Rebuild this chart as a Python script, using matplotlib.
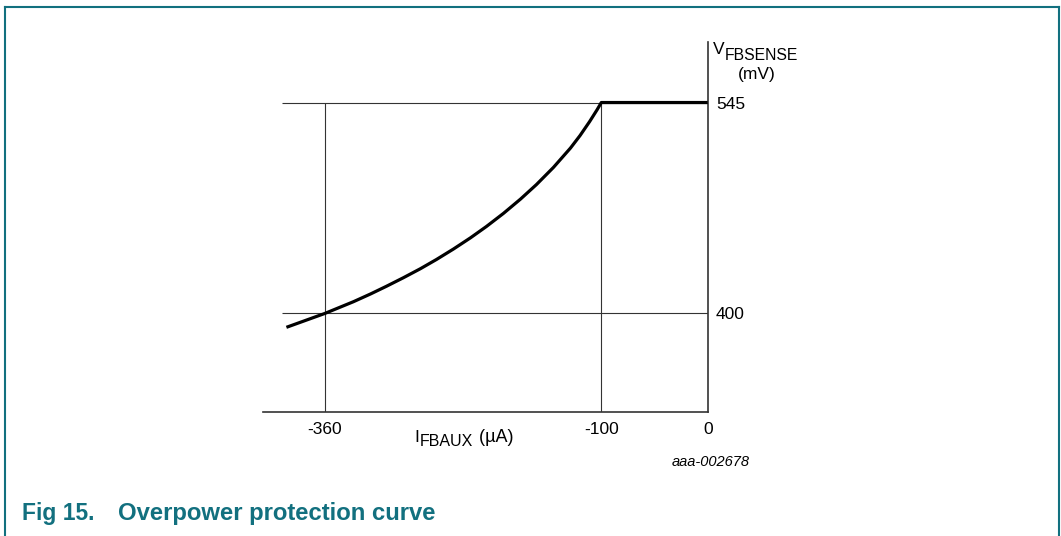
import matplotlib
matplotlib.use("Agg")
import matplotlib.pyplot as plt
from matplotlib.lines import Line2D

# ------------------ DATA ------------------

i_fbaux = [-396, -360, -333, -317, -302, -286, -270, -255, -239, -223, -208,
           -192, -176, -161, -145, -129, -120, -111, -104, -100, 0]           # uA
v_fbsense = [390.5, 400, 408.1, 413.4, 418.7, 424.6, 430.8, 437.1, 444.3, 452.0, 459.8,
             468.8, 478.6, 488.6, 500.4, 513.7, 522.3, 531.9, 540.0, 545, 545]  # mV

x_ticks  = [-360, -100, 0]
y_ticks  = [400, 545]
ref_x    = [-360, -100]    # vertical guide lines
ref_y    = [400, 545]      # horizontal guide lines
guide_x0 = -400            # left end of horizontal guides

X_LIM = (-418, 0)
Y_LIM = (332.3, 586.6)

TEAL = "#12707f"

# ------------------ FIGURE ------------------

plt.rcParams["font.family"] = ["Liberation Sans", "DejaVu Sans"]

W, H = 1061, 536
fig = plt.figure(figsize=(W / 100, H / 100), dpi=100)
renderer = fig.canvas.get_renderer()

# axes box in pixels: x 263..707.7, y 42..412
left, right, top, bottom = 263, 707.7, 42, 412
ax = fig.add_axes([left / W, (H - bottom) / H, (right - left) / W, (bottom - top) / H])

# guide lines
for yv in ref_y:
    ax.plot([guide_x0, 0], [yv, yv], color="#333333", lw=0.8, solid_capstyle="butt")
for xv in ref_x:
    ax.plot([xv, xv], [Y_LIM[0], 545], color="#333333", lw=0.8, solid_capstyle="butt")

# main curve
ax.plot(i_fbaux, v_fbsense, color="black", lw=2.3, solid_capstyle="butt",
        solid_joinstyle="round", zorder=3)

ax.set_xlim(*X_LIM)
ax.set_ylim(*Y_LIM)

for s in ["top", "left"]:
    ax.spines[s].set_visible(False)
for s in ["right", "bottom"]:
    ax.spines[s].set_linewidth(1.2)
    ax.spines[s].set_color("#333333")

ax.set_xticks(x_ticks)
ax.set_xticklabels([str(v) for v in x_ticks])
ax.set_yticks(y_ticks)
ax.set_yticklabels([str(v) for v in y_ticks])
ax.yaxis.tick_right()
ax.tick_params(axis="both", length=0, labelsize=12.5, colors="black")
ax.tick_params(axis="x", pad=7)
ax.tick_params(axis="y", pad=6)
ax.patch.set_alpha(0)


def pix_text(x, y, s, **kw):
    """Place text at pixel coords (y from top), return its right edge in pixels."""
    t = fig.text(x / W, 1 - y / H, s, **kw)
    bb = t.get_window_extent(renderer)
    return bb.x1


# y axis title: V with large subscript, (mV) below
x_end = pix_text(713, 50, "V", fontsize=12.5, va="center", ha="left")
pix_text(x_end + 0.5, 55, "FBSENSE", fontsize=11.3, va="center", ha="left")
pix_text(757, 75, "(mV)", fontsize=12.5, va="center", ha="center")

# x axis title
x_end = pix_text(414, 437, "I", fontsize=12.5, va="center", ha="left")
x_end = pix_text(x_end + 0.5, 442, "FBAUX", fontsize=11.5, va="center", ha="left")
pix_text(x_end + 1, 437, " (µA)", fontsize=13, va="center", ha="left")

pix_text(711, 462, "aaa-002678", fontsize=10.5, style="italic", va="center", ha="center")

# caption
pix_text(22, 520, "Fig 15.", fontsize=16.5, fontweight="bold", color=TEAL, va="baseline", ha="left")
pix_text(118, 520, "Overpower protection curve", fontsize=17.2, fontweight="bold",
         color=TEAL, va="baseline", ha="left")

# frame (open at the bottom)
bx0, bx1, by0 = 5 / W, 1059 / W, 1 - 7 / H
fig.add_artist(Line2D([bx0, bx1], [by0, by0], transform=fig.transFigure, color=TEAL, lw=1.5))
fig.add_artist(Line2D([bx0, bx0], [0, by0], transform=fig.transFigure, color=TEAL, lw=1.5))
fig.add_artist(Line2D([bx1, bx1], [0, by0], transform=fig.transFigure, color=TEAL, lw=1.5))

fig.savefig("out.png", dpi=100)
